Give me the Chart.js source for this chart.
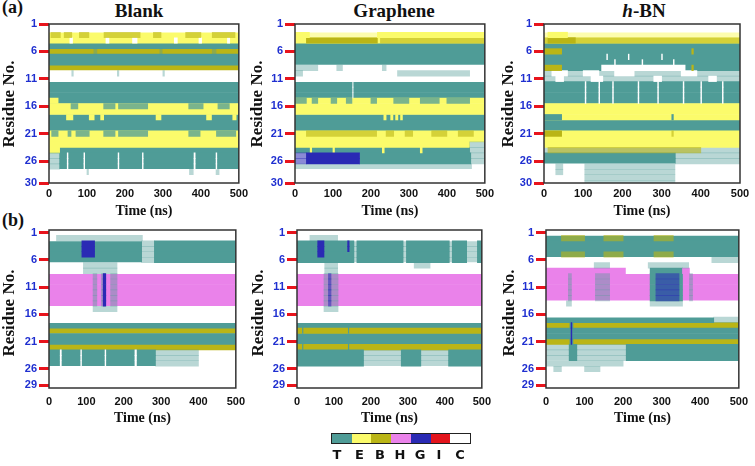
<!DOCTYPE html>
<html>
<head>
<meta charset="utf-8">
<script src="https://cdn.jsdelivr.net/npm/chart.js@4.4.1/dist/chart.umd.min.js"></script>
<style>
  body { margin: 0; width: 755px; height: 466px; background: #fff; position: relative; overflow: hidden; }
  .panel { position: absolute; }
  .ttl { position: absolute; font: bold 19px "Liberation Serif", serif; line-height: 19px; transform: translateX(-50%); white-space: nowrap; color: #111; }
  .tag { position: absolute; left: 2px; font: bold 18px "Liberation Serif", serif; line-height: 18px; color: #111; }
  .legend { position: absolute; left: 331px; top: 433px; width: 138px; height: 9px; border: 1.5px solid #222; display: flex; }
  .legend div { flex: 1; }
  .lab { position: absolute; top: 448px; font: bold 13px "DejaVu Sans", sans-serif; line-height: 13px; transform: translateX(-50%); color: #111; }
</style>
</head>
<body>

<div class="tag" style="top:-2px">(a)</div>
<div class="tag" style="top:211px">(b)</div>
<div class="ttl" style="left:139px;top:1px">Blank</div>
<div class="ttl" style="left:394px;top:1px">Graphene</div>
<div class="ttl" style="left:644px;top:1px"><i>h</i>-BN</div>

<div class="panel" id="p0"><canvas id="c0"></canvas></div>
<div class="panel" id="p1"><canvas id="c1"></canvas></div>
<div class="panel" id="p2"><canvas id="c2"></canvas></div>
<div class="panel" id="p3"><canvas id="c3"></canvas></div>
<div class="panel" id="p4"><canvas id="c4"></canvas></div>
<div class="panel" id="p5"><canvas id="c5"></canvas></div>

<div class="legend" id="legend"></div>

<script>
// DSSP states; lower case = intermittent (streaky) occupation of the same state
const STATES = ['T', 'E', 'B', 'H', 'G', 'I', 'C'];
const STATE_COLORS = {
    T: '#4f9c97', E: '#fbfb6b', B: '#bab516', H: '#ea82ea', G: '#2a2ab4', I: '#e3141c', C: '#ffffff',
    t: 'rgba(79,156,151,0.4)', m: 'rgba(79,156,151,0.75)', e: 'rgba(251,251,107,0.55)',
    b: 'rgba(186,181,22,0.6)', g: 'rgba(42,42,180,0.55)'
};

const TIME_TICKS = [0, 100, 200, 300, 400, 500];
const TOP_RES_TICKS = [1, 6, 11, 16, 21, 26, 30];
const BOT_RES_TICKS = [1, 6, 11, 16, 21, 26, 29];

// one string per residue: "<state><start ns>-<end ns>" segments, first one is the base
const blankTop = [
    "C0-500",
    "C0-500",
    "E0-500 b5-30 b40-60 b80-105 b145-240 b275-295 b360-400 b430-490",
    "E0-500 C55-62 C150-158 C220-232 C330-338 C395-402 C470-476",
    "T0-500",
    "B0-500 t118-126 t292-298 t430-440",
    "T0-500",
    "T0-500",
    "B0-500",
    "C0-500 t60-64 t180-184 t300-304",
    "C0-500",
    "T0-500",
    "T0-500",
    "T0-500",
    "T0-500 E0-24",
    "E0-500 m58-76 m144-174 m183-260 m368-406 m445-475",
    "E0-500",
    "T0-500 E46-63 E106-119 E136-144 E282-295 E415-428 E484-493",
    "T0-500",
    "T0-500",
    "E0-500 m7-24 m50-58 m71-106 m144-174 m183-260 m368-398 m441-492",
    "E0-500",
    "E0-500",
    "T0-500 E0-28",
    "T28-500 t0-28 C48-50 C92-94 C182-184 C246-248 C382-385 C440-442",
    "T28-500 t0-28 C48-50 C92-94 C182-184 C246-248 C382-385 C440-442",
    "T28-500 t0-28 C48-50 C92-94 C182-184 C246-248 C382-385 C440-442",
    "C0-500 t100-104 t370-380 t440-448",
    "C0-500",
    "C0-500"
];

const graphTop = [
    "C0-500",
    "C0-500",
    "e0-500 E0-38 E217-500",
    "E0-500 B30-217 b225-500",
    "T0-500",
    "T0-500",
    "T0-500",
    "T0-500",
    "C0-500 t0-60 t110-125 t230-240",
    "C0-500 t0-20 t270-460",
    "C0-500",
    "T0-500 C152-153",
    "T0-500 C152-153",
    "T0-500 C152-153",
    "E0-500 m0-30 m45-60 m95-110 m135-150 m200-215 m260-300 m330-380 m400-460",
    "E0-500",
    "E0-500",
    "T0-500 E234-240 E252-258 E265-271 E278-283",
    "T0-500",
    "T0-500",
    "E0-500 b30-215 b240-260 b290-310 b360-400 b430-470",
    "E0-500",
    "E0-460 t460-500",
    "T0-460 t460-500 E40-44 E100-104 E230-235 E330-335",
    "T170-463 G30-170 g0-30 t463-500",
    "T170-463 G30-170 g0-30 t463-500",
    "t0-465",
    "C0-500",
    "C0-500",
    "C0-500"
];

const hbnTop = [
    "C0-500",
    "C0-500",
    "e0-500 E10-60",
    "E0-500 b0-500 B10-80",
    "T0-500",
    "T0-500 B0-45 B377-381",
    "T0-500 C160-162 C215-217 C300-302",
    "T0-500 C180-182 C250-252 C330-332",
    "T0-500 B0-45 C147-360 B377-381",
    "t0-500 C20-60 C100-140 C180-230 C350-390",
    "t0-500 C30-50 C120-150 C280-300 C420-440",
    "T0-500 C105-107 C140-142 C175-177 C240-242 C290-292 C355-357 C400-402 C455-457",
    "T0-500 C105-107 C140-142 C175-177 C240-242 C290-292 C355-357 C400-402 C455-457",
    "T0-500 C105-107 C140-142 C175-177 C240-242 C290-292 C355-357 C400-402 C455-457",
    "T0-500 C105-107 C140-142 C175-177 C240-242 C290-292 C355-357 C400-402 C455-457",
    "E0-500",
    "E0-500",
    "E0-500 T0-45 T326-330",
    "T0-500",
    "T0-500",
    "E0-500 B0-45 b326-330",
    "E0-500",
    "E0-500",
    "t0-500 b10-400",
    "T0-335 t335-500",
    "T0-335 t335-500",
    "C0-500 t30-48 t104-334",
    "C0-500 t30-48 t104-334",
    "C0-500 t104-334",
    "C0-500 t104-334"
];

const blankBot = [
    "C0-500",
    "C0-500 t20-250",
    "T0-248 t248-282 T282-500 G88-122",
    "T0-248 t248-282 T282-500 G88-122",
    "T0-248 t248-282 T282-500 G88-122",
    "T0-248 t248-282 T282-500",
    "C0-500 t92-182",
    "C0-500 t92-182",
    "H0-500 t118-128 t140-150 t165-182 G145-152",
    "H0-500 t118-128 t140-150 t165-182 G145-152",
    "H0-500 t118-128 t140-150 t165-182 G145-152",
    "H0-500 t118-128 t140-150 t165-182 G145-152",
    "H0-500 t118-128 t140-150 t165-182 G145-152",
    "H0-500 t118-128 t140-150 t165-182 G145-152",
    "C0-500 t118-182",
    "C0-500",
    "C0-500",
    "T0-500",
    "B0-500",
    "T0-500",
    "T0-500",
    "B0-500",
    "T0-285 t285-400 C30-33 C85-87 C150-152 C230-234",
    "T0-285 t285-400 C30-33 C85-87 C150-152 C230-234",
    "T0-285 t285-400 C30-33 C85-87 C150-152 C230-234",
    "C0-500",
    "C0-500",
    "C0-500",
    "C0-500"
];

const graphBot = [
    "C0-500",
    "C0-500 t35-110",
    "t0-500 T0-154 T162-287 T296-412 T420-459 T488-500 G56-73 G137-141",
    "t0-500 T0-154 T162-287 T296-412 T420-459 T488-500 G56-73 G137-141",
    "t0-500 T0-154 T162-287 T296-412 T420-459 T488-500 G56-73",
    "t0-500 T0-154 T162-287 T296-412 T420-459 T488-500",
    "C0-500 t75-110 t317-360",
    "C0-500 t75-110",
    "H0-500 t73-111 g85-92",
    "H0-500 t73-111 g85-92",
    "H0-500 t73-111 g85-92",
    "H0-500 t73-111 g85-92",
    "H0-500 t73-111 g85-92",
    "H0-500 t73-111 g85-92",
    "C0-500 t73-111",
    "C0-500",
    "C0-500",
    "T0-500",
    "T0-500 B0-13 B18-137 B142-500",
    "T0-500",
    "T0-500",
    "T0-500 B0-13 B18-137 B142-500",
    "t0-500 T0-180 T282-335 T410-500",
    "t0-500 T0-180 T282-335 T410-500",
    "t0-500 T0-180 T282-335 T410-500",
    "C0-500",
    "C0-500",
    "C0-500",
    "C0-500"
];

const hbnBot = [
    "C0-500",
    "T0-500 b40-100 b150-200 b280-330",
    "T0-500",
    "T0-500",
    "T0-500 b40-100 b150-200 b280-330",
    "C0-500 t430-500",
    "C0-500 t125-165 t265-370",
    "C0-500 H0-206 T270-354 H354-372",
    "H0-500 T270-354 t58-66 t128-165 t372-380 g285-345",
    "H0-500 T270-354 t58-66 t128-165 t372-380 g285-345",
    "H0-500 T270-354 t58-66 t128-165 t372-380 g285-345",
    "H0-500 T270-354 t58-66 t128-165 t372-380 g285-345",
    "H0-500 T270-354 t58-66 t128-165 t372-380 g285-345",
    "C0-500 t270-354 t53-66",
    "C0-500",
    "C0-500",
    "T0-435 t435-500",
    "B0-500 T62-70 G65-67",
    "T0-500 G65-67",
    "T0-500 G65-67",
    "B0-500 T62-70 G65-67",
    "t0-60 T60-80 t80-208 T208-500",
    "t0-60 T60-80 t80-208 T208-500",
    "t0-60 T60-80 t80-208 T208-500",
    "C0-500 t0-200",
    "C0-500 t20-40 t100-140",
    "C0-500",
    "C0-500",
    "C0-500"
];

// page geometry: box = [left, top, width, height], area = plot rectangle [l, t, r, b],
// yTitle = page centre of the "Residue No." label
const PANELS = [
    { rows: blankTop, ticks: TOP_RES_TICKS, yMin: 1, yMax: 30, box: [0, 0, 252, 222], area: [49, 24, 243, 183], tickPad: 4, titlePad: 4, yTitle: [10, 104] },
    { rows: graphTop, ticks: TOP_RES_TICKS, yMin: 1, yMax: 30, box: [248, 0, 250, 222], area: [295, 24, 491, 183], tickPad: 4, titlePad: 4, yTitle: [258, 104] },
    { rows: hbnTop, ticks: TOP_RES_TICKS, yMin: 1, yMax: 30, box: [500, 0, 255, 222], area: [544, 24, 740, 183], tickPad: 4, titlePad: 4, yTitle: [509, 104] },
    { rows: blankBot, ticks: BOT_RES_TICKS, yMin: 0.5, yMax: 29.5, box: [0, 205, 252, 222], area: [49, 230, 244, 388], tickPad: 7, titlePad: 2, yTitle: [10, 313] },
    { rows: graphBot, ticks: BOT_RES_TICKS, yMin: 0.5, yMax: 29.5, box: [250, 205, 248, 222], area: [297, 230, 491, 388], tickPad: 7, titlePad: 2, yTitle: [259, 313] },
    { rows: hbnBot, ticks: BOT_RES_TICKS, yMin: 0.5, yMax: 29.5, box: [502, 205, 253, 222], area: [546, 230, 742, 388], tickPad: 7, titlePad: 2, yTitle: [510, 313] }
];

const SERIF = '"Liberation Serif", serif';
const SANS = '"Liberation Sans", sans-serif';

function buildDatasets(rows) {
    const sets = {};
    rows.forEach((row, i) => {
        row.split(' ').forEach((tok, j) => {
            const m = tok.match(/^(\w)(\d+)-(\d+)$/);
            const s = m[1];
            const layer = j === 0 ? 0 : ('Gg'.includes(s) ? 2 : 1);
            const key = s + layer;
            if (!sets[key]) {
                sets[key] = {
                    label: s,
                    data: [],
                    backgroundColor: STATE_COLORS[s],
                    order: -layer,
                    grouped: false,
                    barPercentage: 1,
                    categoryPercentage: 1,
                    borderWidth: 0
                };
            }
            sets[key].data.push({ y: i + 1, x: [+m[2], +m[3]] });
        });
    });
    return Object.values(sets);
}

// dark frame round the plot area
const framePlugin = {
    id: 'frame',
    afterDatasetsDraw(chart) {
        const { ctx, chartArea: a } = chart;
        ctx.save();
        ctx.strokeStyle = '#333';
        ctx.lineWidth = 1.5;
        ctx.strokeRect(a.left, a.top, a.right - a.left, a.bottom - a.top);
        ctx.restore();
    }
};

// rotated "Residue No." drawn straight onto the panel canvas
const yTitlePlugin = {
    id: 'yTitle',
    afterDraw(chart, args, opts) {
        const ctx = chart.ctx;
        ctx.save();
        ctx.translate(opts.x, opts.y);
        ctx.rotate(-Math.PI / 2);
        ctx.font = 'bold 17px ' + SERIF;
        ctx.fillStyle = '#111';
        ctx.textAlign = 'center';
        ctx.textBaseline = 'middle';
        ctx.fillText(opts.text, 0, 0);
        ctx.restore();
    }
};

function renderPanel(idx) {
    const p = PANELS[idx];
    const [bl, bt, bw, bh] = p.box;
    const [al, at, ar, ab] = p.area;
    const wrap = document.getElementById('p' + idx);
    wrap.style.left = bl + 'px';
    wrap.style.top = bt + 'px';
    wrap.style.width = bw + 'px';
    wrap.style.height = bh + 'px';

    new Chart(document.getElementById('c' + idx), {
        type: 'bar',
        data: { datasets: buildDatasets(p.rows) },
        plugins: [framePlugin, yTitlePlugin],
        options: {
            indexAxis: 'y',
            responsive: true,
            maintainAspectRatio: false,
            animation: false,
            events: [],
            layout: { padding: { top: at - bt, right: bl + bw - ar, left: 0, bottom: 0 } },
            plugins: {
                legend: { display: false },
                tooltip: { enabled: false },
                yTitle: { text: 'Residue No.', x: p.yTitle[0] - bl, y: p.yTitle[1] - bt }
            },
            scales: {
                x: {
                    type: 'linear',
                    min: 0,
                    max: 500,
                    afterBuildTicks: s => { s.ticks = TIME_TICKS.map(v => ({ value: v })); },
                    afterFit: s => { s.height = bt + bh - ab; },
                    grid: { display: false, drawTicks: false },
                    border: { display: false },
                    ticks: { color: '#111', padding: p.tickPad, maxRotation: 0, autoSkip: false,
                             font: { family: SANS, size: 11, weight: 'bold' } },
                    title: { display: true, text: 'Time (ns)', color: '#111',
                             padding: { top: 0, bottom: p.titlePad },
                             font: { family: SERIF, size: 14, weight: 'bold', lineHeight: 1 } }
                },
                y: {
                    type: 'linear',
                    reverse: true,
                    offset: false,
                    min: p.yMin,
                    max: p.yMax,
                    afterBuildTicks: s => { s.ticks = p.ticks.map(v => ({ value: v })); },
                    afterFit: s => { s.width = al - bl; },
                    grid: { display: true, offset: false, drawOnChartArea: false, drawTicks: true,
                            tickLength: 10, tickColor: '#e8141c', tickWidth: 3 },
                    border: { display: false },
                    ticks: { color: '#1f2fd0', padding: 2, autoSkip: false,
                             font: { family: SANS, size: 11, weight: 'bold' } },
                    title: { display: false }
                }
            }
        }
    });
}

PANELS.forEach((p, i) => renderPanel(i));

// colour key under the panels
const legend = document.getElementById('legend');
const LEGEND_X = [337, 359.5, 380, 400, 420, 439, 460];
STATES.forEach((s, i) => {
    const cell = document.createElement('div');
    cell.style.background = STATE_COLORS[s];
    legend.appendChild(cell);
    const lab = document.createElement('div');
    lab.className = 'lab';
    lab.style.left = LEGEND_X[i] + 'px';
    lab.textContent = s;
    document.body.appendChild(lab);
});
</script>
</body>
</html>
